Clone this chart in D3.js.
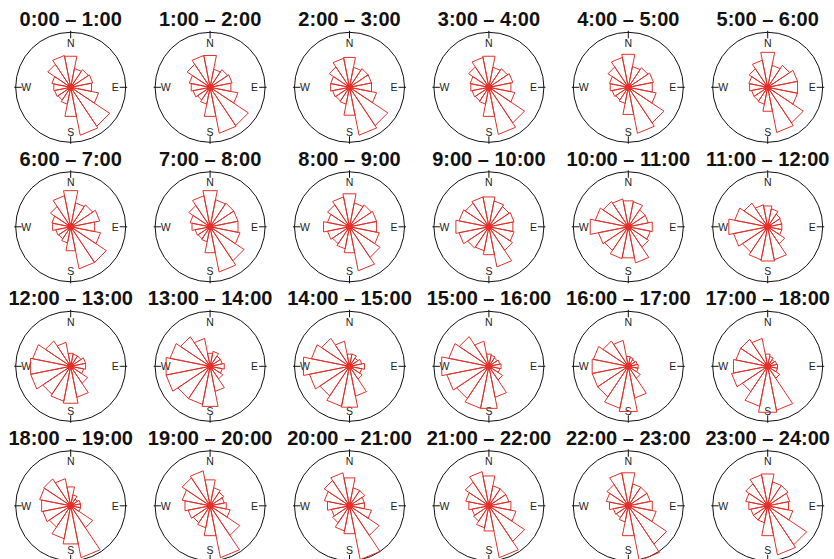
<!DOCTYPE html>
<html>
<head>
<meta charset="utf-8">
<script src="https://cdn.jsdelivr.net/npm/d3@7"></script>
<style>
  html, body { margin: 0; padding: 0; background: #fff; }
  svg { display: block; }
</style>
</head>
<body>
<svg id="chart" width="834" height="559"></svg>
<script>
// Sixteen compass sectors, clockwise from north
const directions = ["N","NNE","NE","ENE","E","ESE","SE","SSE","S","SSW","SW","WSW","W","WNW","NW","NNW"];
const compassLabels = ["N", "E", "S", "W"];

// One panel per hour of the day
const periods = [
  "0:00 – 1:00", "1:00 – 2:00", "2:00 – 3:00", "3:00 – 4:00", "4:00 – 5:00", "5:00 – 6:00",
  "6:00 – 7:00", "7:00 – 8:00", "8:00 – 9:00", "9:00 – 10:00", "10:00 – 11:00", "11:00 – 12:00",
  "12:00 – 13:00", "13:00 – 14:00", "14:00 – 15:00", "15:00 – 16:00", "16:00 – 17:00", "17:00 – 18:00",
  "18:00 – 19:00", "19:00 – 20:00", "20:00 – 21:00", "21:00 – 22:00", "22:00 – 23:00", "23:00 – 24:00"
];

// Frequency of wind from each sector (%), per hour, in the order of `directions`
const h00 = [7.9, 4.8, 5.3, 5.6, 5.3, 7.1, 11.7, 12.2, 7.4, 4.3, 3.8, 4.1, 4.3, 4.8, 6.9, 8.1];
const h01 = [8.1, 4.6, 5.3, 5.6, 5.3, 7.1, 11.5, 11.7, 7.4, 4.3, 3.8, 4.3, 4.8, 5.3, 6.9, 8.1];
const h02 = [7.6, 5.1, 5.6, 5.6, 5.6, 6.9, 11.5, 12.2, 7.1, 4.3, 4.1, 4.3, 4.8, 4.8, 6.1, 7.4];
const h03 = [7.9, 5.1, 5.6, 6.1, 5.6, 6.6, 10.7, 12.0, 7.4, 4.3, 4.1, 4.3, 4.6, 4.8, 6.1, 7.6];
const h04 = [8.4, 5.3, 5.9, 6.4, 6.1, 7.1, 10.7, 11.7, 6.9, 4.1, 3.8, 4.1, 4.6, 4.8, 6.1, 7.6];
const h05 = [8.9, 5.6, 6.6, 7.6, 7.6, 7.6, 10.7, 11.5, 6.1, 4.3, 4.1, 4.1, 4.6, 4.8, 5.6, 6.9];
const h06 = [9.2, 6.1, 6.6, 7.4, 6.1, 7.6, 10.7, 10.7, 6.1, 4.1, 3.6, 3.8, 4.6, 4.8, 6.1, 7.9];
const h07 = [9.2, 6.9, 7.1, 7.1, 7.1, 7.6, 10.2, 11.5, 6.6, 3.8, 3.6, 3.8, 4.6, 5.1, 6.4, 7.9];
const h08 = [8.4, 6.1, 6.6, 6.9, 6.9, 7.6, 9.2, 11.2, 6.6, 5.6, 5.1, 5.6, 6.6, 5.6, 6.6, 7.6];
const h09 = [7.6, 6.6, 6.1, 6.4, 6.1, 6.4, 7.1, 10.2, 7.1, 6.1, 6.4, 7.6, 8.4, 7.6, 7.1, 7.6];
const h10 = [6.6, 6.4, 5.1, 5.1, 6.1, 5.6, 6.1, 9.2, 7.9, 8.1, 7.1, 7.6, 9.7, 8.4, 7.6, 7.1];
const h11 = [5.3, 4.6, 3.8, 3.6, 3.6, 3.6, 5.1, 8.4, 8.7, 8.4, 7.6, 8.7, 9.9, 8.4, 7.1, 5.6];
const h12 = [3.3, 3.1, 3.1, 3.8, 3.8, 3.3, 5.1, 7.9, 9.4, 8.9, 8.4, 10.2, 10.2, 9.7, 7.6, 6.1];
const h13 = [3.3, 3.8, 3.1, 3.1, 3.6, 3.1, 3.8, 6.4, 10.2, 9.7, 9.7, 11.2, 11.2, 10.2, 8.9, 7.1];
const h14 = [3.1, 3.1, 2.5, 3.1, 3.8, 3.1, 3.8, 7.6, 10.4, 10.2, 8.9, 10.2, 11.7, 9.7, 8.4, 6.4];
const h15 = [3.1, 2.8, 2.5, 2.8, 3.1, 2.8, 4.1, 7.9, 10.7, 10.7, 9.7, 10.7, 12.0, 10.2, 8.9, 6.4];
const h16 = [2.5, 2.3, 2.0, 2.3, 2.5, 2.5, 3.6, 8.1, 11.5, 10.7, 9.2, 9.2, 9.2, 8.9, 7.6, 6.6];
const h17 = [3.1, 2.5, 2.0, 2.3, 2.5, 2.5, 3.6, 11.2, 11.7, 10.2, 7.6, 9.2, 8.7, 8.1, 8.1, 7.1];
const h18 = [4.8, 2.8, 2.0, 2.5, 2.5, 2.5, 6.6, 13.2, 9.7, 8.4, 6.4, 7.1, 7.4, 7.9, 8.1, 6.9];
const h19 = [6.6, 4.6, 4.1, 3.6, 4.1, 5.1, 8.9, 13.2, 7.6, 5.6, 5.1, 5.6, 6.4, 7.1, 8.4, 8.9];
const h20 = [7.1, 4.6, 4.6, 3.8, 3.8, 5.6, 8.9, 13.7, 7.1, 6.4, 5.1, 4.6, 5.6, 6.4, 7.6, 8.4];
const h21 = [7.6, 5.1, 5.1, 5.1, 5.6, 6.9, 10.7, 13.2, 6.4, 5.6, 4.6, 4.3, 5.1, 5.9, 7.1, 8.7];
const h22 = [8.4, 5.6, 5.6, 5.6, 6.1, 7.1, 11.5, 14.0, 7.6, 4.1, 3.6, 3.8, 4.8, 5.6, 6.4, 8.4];
const h23 = [8.1, 6.1, 6.1, 5.6, 5.3, 6.4, 11.7, 12.5, 7.6, 4.3, 4.3, 4.3, 4.8, 5.6, 6.6, 7.9];

const hourly = [h00, h01, h02, h03, h04, h05, h06, h07, h08, h09, h10, h11,
                h12, h13, h14, h15, h16, h17, h18, h19, h20, h21, h22, h23];

// Outer ring of every rose
const ringMax = 14;

const svg = d3.select("#chart");
const nCols = 6, nRows = 4;
const R = 55;

const colX = d3.scaleLinear().domain([0, nCols - 1]).range([70.7, 767.7]);
const rowY = d3.scaleLinear().domain([0, nRows - 1]).range([87.3, 505.8]);
const radius = d3.scaleLinear().domain([0, ringMax]).range([0, R]);
const bearing = d3.scaleBand().domain(directions).range([0, 2 * Math.PI]);
const half = bearing.bandwidth() / 2;

const red = "#e3302a";

function polar(a, d) {
  return [d * Math.sin(a), -d * Math.cos(a)];
}

function sectorPath(dir, value) {
  const a = bearing(dir);          // band start sits on the sector centre
  const d = radius(value) / Math.cos(half);
  const p1 = polar(a - half, d), p2 = polar(a + half, d);
  return `M0,0L${p1[0]},${p1[1]}L${p2[0]},${p2[1]}Z`;
}

const panels = svg.selectAll("g.panel")
  .data(periods.map((p, i) => ({ label: p, values: hourly[i], i })))
  .join("g")
  .attr("class", "panel")
  .attr("transform", d => `translate(${colX(d.i % nCols)},${rowY(Math.floor(d.i / nCols))})`);

panels.append("text")
  .attr("y", -61)
  .attr("text-anchor", "middle")
  .attr("font-family", "'Liberation Sans', Arial, Helvetica, sans-serif")
  .attr("font-weight", "bold")
  .attr("font-size", 20)
  .attr("fill", "#111")
  .text(d => d.label);

panels.append("circle")
  .attr("r", R)
  .attr("fill", "none")
  .attr("stroke", "#111")
  .attr("stroke-width", 1);

const cardinal = d3.scaleOrdinal().domain(compassLabels).range([0, Math.PI / 2, Math.PI, 3 * Math.PI / 2]);

panels.each(function () {
  const g = d3.select(this);
  compassLabels.forEach(c => {
    const a = cardinal(c);
    const [x1, y1] = polar(a, R - 6);
    const [x2, y2] = polar(a, R + 1.5);
    g.append("line")
      .attr("x1", x1).attr("y1", y1).attr("x2", x2).attr("y2", y2)
      .attr("stroke", "#111").attr("stroke-width", 1);
    const [tx, ty] = polar(a, R - 10.5);
    g.append("text")
      .attr("x", tx).attr("y", ty)
      .attr("text-anchor", "middle")
      .attr("dominant-baseline", "central")
      .attr("font-family", "'Liberation Sans', Arial, Helvetica, sans-serif")
      .attr("font-size", 10.5)
      .attr("fill", "#222")
      .text(c);
  });
});

panels.selectAll("path.sector")
  .data(d => directions.map((dir, k) => ({ dir, value: d.values[k] })))
  .join("path")
  .attr("class", "sector")
  .attr("d", d => sectorPath(d.dir, d.value))
  .attr("fill", "none")
  .attr("stroke", red)
  .attr("stroke-width", 1)
  .attr("stroke-linejoin", "miter");

panels.append("circle")
  .attr("r", 3.5)
  .attr("fill", red);
</script>
</body>
</html>
